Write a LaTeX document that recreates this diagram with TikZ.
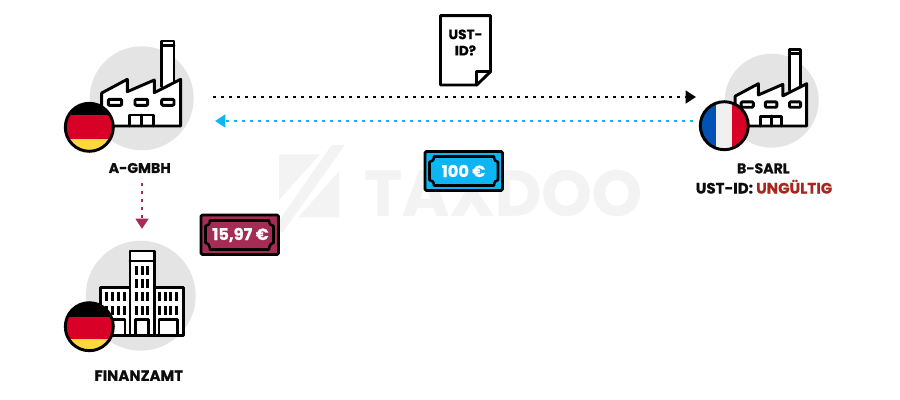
\documentclass[tikz,border=0pt]{standalone}
\usepackage{fontspec}
\setmainfont{Poppins}[BoldFeatures={FakeBold=0.6}]
\usetikzlibrary{arrows.meta}
\definecolor{halo}{HTML}{E4E4E4}
\definecolor{wm}{HTML}{F3F3F4}
\definecolor{plum}{HTML}{A42C55}
\definecolor{sky}{HTML}{0DB5F2}
\definecolor{wine}{HTML}{A8261E}
\definecolor{flagred}{HTML}{D80027}
\definecolor{flaggold}{HTML}{FFD83F}
\definecolor{flagblue}{HTML}{0052B4}
\definecolor{flagwhite}{HTML}{F0F0F0}
\tikzset{
  ink/.style={draw=black,line width=2.2pt,line join=round,line cap=round},
  label/.style={font=\bfseries\fontsize{10.6}{12}\selectfont,inner sep=0pt,text=black!95},
  dotblack/.style={line width=1.9pt,black,dash pattern=on 1.9pt off 4.1pt,-{Triangle[length=7.8pt,width=9.5pt]}},
  dotblue/.style={dotblack,sky},
  dotplum/.style={dotblack,plum},
  billtext/.style={text=white,font=\bfseries\fontsize{12.2}{13}\selectfont,inner sep=0pt},
  billouter/.style={ink,rounded corners=1pt},
  billinner/.style={ink,line width=1.9pt},
}
% factory, local coordinates: origin at lower right corner
\newcommand{\factorydraw}{%
  \draw[ink,fill=white] (-19,-39.5) -- (-19,-85) -- (-6.7,-85) -- (-6.7,-39.5);
  \draw[ink] (-19,-80.3) -- (-6.7,-80.3);
  \draw[ink,fill=white] (-79,0) -- (-79,-33) -- (-53.4,-46.7) -- (-53.4,-34.3) -- (-26.4,-46) -- (-26.4,-33.3) -- (0,-46.7) -- (0,0) -- cycle;
  \draw[ink,rounded corners=0.8pt] (-72.4,-26.7) rectangle (-59,-20.7);
  \draw[ink,rounded corners=0.8pt] (-45.7,-26.7) rectangle (-33,-20.7);
  \draw[ink,rounded corners=0.8pt] (-19,-26.7) rectangle (-6.7,-20.7);
  \draw[ink] (-51.4,0) -- (-51.4,-11) -- (-27.4,-11) -- (-27.4,0);
  \draw[ink] (-39.4,0) -- (-39.4,-11);
}
\begin{document}
\begin{tikzpicture}[x=0.75pt,y=-0.75pt]
\useasboundingbox (0,0) rectangle (900,400);
% watermark
\fill[wm] (279,154.3) -- (320,154.3) -- (279,200) -- cycle;
\fill[wm] (339,171) -- (339,217.3) -- (298.3,217.3) -- cycle;
\fill[wm] (331.7,145) -- (345,145) -- (283,232) -- (271,232) -- cycle;
\node[inner sep=0pt,text=wm,font=\bfseries\fontsize{48}{50}\selectfont] (mark) at (503,193) {TAXDOO};
% A-GmbH
\fill[halo] (141.7,98.3) circle (52);
\begin{scope}[shift={(180.7,126)}]
\factorydraw
\end{scope}
\begin{scope}
\clip (89.3,127.3) circle (24);
\fill[black] (60,100) rectangle (120,115);
\fill[flagred] (60,115) rectangle (120,139.3);
\fill[flaggold] (60,139.3) rectangle (120,155);
\end{scope}
\draw[ink] (89.3,127.3) circle (24);
\node[label] (agmbh) at (139.7,168) {A-GMBH};
% B-SARL
\fill[halo] (771.7,100.7) circle (47);
\begin{scope}[shift={(806.7,126)},scale=0.905]
\factorydraw
\end{scope}
\begin{scope}
\clip (724.3,125.7) circle (24);
\fill[flagblue] (695,100) rectangle (716,150);
\fill[flagwhite] (716,100) rectangle (732.3,150);
\fill[flagred] (732.3,100) rectangle (755,150);
\end{scope}
\draw[ink] (724.3,125.7) circle (24);
\node[label] (bsarl) at (763.3,168.3) {B-SARL};
\node[label,font=\bfseries\fontsize{11.3}{12}\selectfont] (ustid) at (764,186.7) {UST-ID: \textcolor{wine}{UNGÜLTIG}};
% Finanzamt
\fill[halo] (140.7,295.7) circle (55);
\draw[ink,fill=white] (100.7,335.7) rectangle (183.3,287.3);
\foreach \x in {106.7,112.7,118.4,124.7,159,165,170.7,176.7}
  \foreach \y in {292.3,306}
    \fill[black] (\x-1.5,\y) rectangle (\x+1.5,\y+8.5);
\draw[ink,fill=white] (130,335.7) rectangle (154.3,251);
\draw[ink] (130,261) -- (154.3,261);
\foreach \x in {136,142,147.7}
  \foreach \y in {266,279.3,292.3,306}
    \fill[black] (\x-1.5,\y) rectangle (\x+1.5,\y+8.5);
\draw[ink] (135.7,335.7) -- (135.7,319.5) -- (148.7,319.5) -- (148.7,335.7);
\draw[ink] (159,335.7) -- (159,319.5) -- (177.3,319.5) -- (177.3,335.7);
\draw[ink] (112,335.7) -- (112,319.5) -- (125,319.5) -- (125,335.7);
\begin{scope}
\clip (89.3,326.7) circle (24);
\fill[black] (60,300) rectangle (120,316.7);
\fill[flagred] (60,316.7) rectangle (120,339.3);
\fill[flaggold] (60,339.3) rectangle (120,355);
\end{scope}
\draw[ink] (89.3,326.7) circle (24);
\node[label,font=\bfseries\fontsize{11.2}{12}\selectfont] (fa) at (138.8,375.7) {FINANZAMT};
% document
\draw[ink,fill=white] (476.7,85) -- (440.5,85) -- (440.5,15.7) -- (490.5,15.7) -- (490.5,71.7) -- cycle;
\draw[ink] (490.5,71.7) -- (476.7,71.7) -- (476.7,85);
\node[inner sep=0pt,align=center,font=\bfseries\fontsize{10.2}{12.2}\selectfont] (doc) at (465.5,42.5) {UST-\\ID?};
% connectors
\coordinate (c1) at (213,97);
\coordinate (c2) at (696,97);
\coordinate (c3) at (693,121);
\coordinate (c4) at (215,121);
\coordinate (c5) at (142,183);
\coordinate (c6) at (142,229);
\draw[dotblack] (c1) -- (c2);
\draw[dotblue] (c3) -- (c4);
\draw[dotplum] (c5) -- (c6);
% bills
\draw[billouter,fill=plum] (201,215) rectangle (278.5,254.5);
\draw[billinner] (210,220.5) -- (269,220.5) .. controls (269,224) and (271,226) .. (273.5,226) -- (273.5,243) .. controls (271,243) and (269,246) .. (269,249.5) -- (210,249.5) .. controls (210,246) and (208,243) .. (205.5,243) -- (205.5,226) .. controls (208,226) and (210,224) .. (210,220.5) -- cycle;
\node[billtext] (bill1) at (240.5,235) {15,97 €};
\draw[billouter,fill=sky] (425,151.5) rectangle (502.5,190.5);
\draw[billinner] (434,156.5) -- (494,156.5) .. controls (494,160) and (496,162) .. (498,162) -- (498,180) .. controls (496,180) and (494,182) .. (494,185.5) -- (434,185.5) .. controls (434,182) and (432,180) .. (429.5,180) -- (429.5,162) .. controls (432,162) and (434,160) .. (434,156.5) -- cycle;
\node[billtext] (bill2) at (463.5,171) {100 €};
\end{tikzpicture}
\end{document}
